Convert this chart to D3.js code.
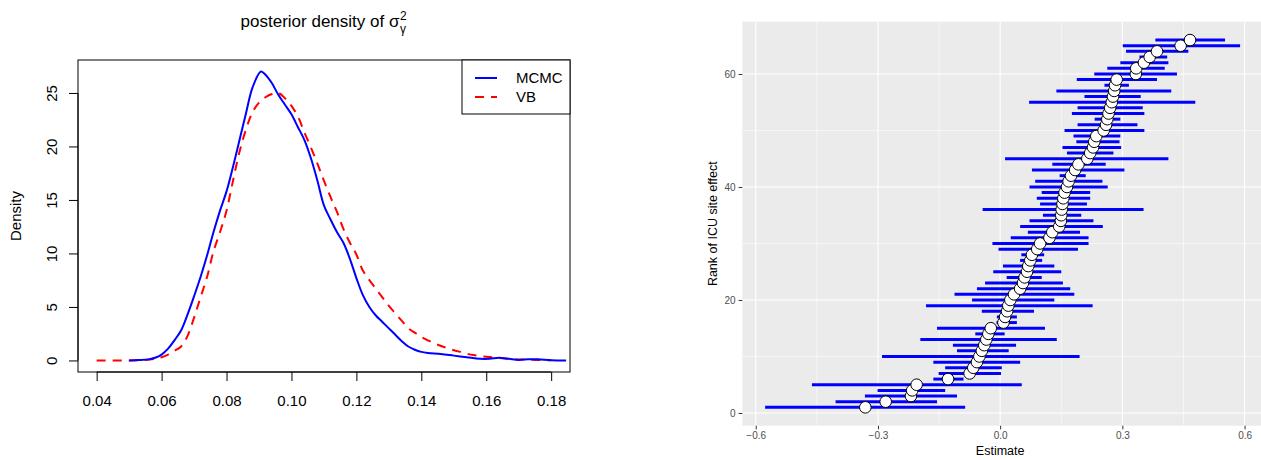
<!DOCTYPE html>
<html>
<head>
<meta charset="utf-8">
<script src="https://cdn.jsdelivr.net/npm/d3@7"></script>
<style>
  body { margin: 0; background: #fff; }
  svg { display: block; font-family: "Liberation Sans", Arial, Helvetica, sans-serif; }
</style>
</head>
<body>
<svg id="chart" width="1261" height="460"></svg>
<script>
// ---- left panel: posterior density of sigma_gamma^2 ----
const mcmcX = [0.050, 0.053, 0.056, 0.058, 0.060, 0.062, 0.064, 0.066, 0.068, 0.070,
  0.072, 0.074, 0.076, 0.078, 0.080, 0.082, 0.084, 0.086, 0.088, 0.0906,
  0.092, 0.094, 0.096, 0.098, 0.100, 0.102, 0.104, 0.106, 0.108, 0.110,
  0.112, 0.114, 0.116, 0.118, 0.120, 0.122, 0.124, 0.126, 0.128, 0.130,
  0.132, 0.134, 0.136, 0.138, 0.140, 0.142, 0.146, 0.150, 0.154, 0.158,
  0.161, 0.164, 0.167, 0.170, 0.173, 0.176, 0.180, 0.1846];
const mcmcY = [0.0, 0.03, 0.1, 0.25, 0.55, 1.1, 1.9, 2.8, 4.3, 6.0,
  7.8, 9.8, 12.0, 14.0, 15.8, 18.1, 20.6, 23.1, 25.5, 27.0,
  26.7, 25.9, 24.8, 23.9, 23.0, 21.8, 20.6, 18.9, 16.8, 14.5,
  13.2, 12.0, 11.0, 9.5, 7.7, 6.1, 5.0, 4.2, 3.6, 3.0,
  2.4, 1.8, 1.3, 1.0, 0.8, 0.7, 0.6, 0.45, 0.3, 0.15,
  0.15, 0.25, 0.15, 0.05, 0.12, 0.1, 0.02, 0.0];

const vbX = [0.040, 0.050, 0.055, 0.058, 0.060, 0.062, 0.064, 0.066, 0.068, 0.070,
  0.072, 0.074, 0.076, 0.078, 0.080, 0.082, 0.084, 0.086, 0.088, 0.090,
  0.092, 0.094, 0.096, 0.098, 0.100, 0.102, 0.104, 0.106, 0.108, 0.110,
  0.112, 0.114, 0.116, 0.118, 0.120, 0.122, 0.124, 0.126, 0.128, 0.130,
  0.132, 0.134, 0.136, 0.138, 0.140, 0.144, 0.148, 0.152, 0.156, 0.160,
  0.165, 0.170, 0.175, 0.180];
const vbY = [0.0, 0.0, 0.05, 0.15, 0.3, 0.55, 0.9, 1.3, 2.3, 4.0,
  5.9, 7.8, 10.2, 12.0, 14.0, 16.8, 19.5, 21.6, 23.2, 24.1,
  24.6, 24.9, 25.0, 24.5, 23.8, 22.8, 21.3, 19.9, 18.4, 16.8,
  15.3, 13.9, 12.3, 11.0, 9.9, 8.4, 7.5, 6.7, 5.9, 5.1,
  4.4, 3.7, 3.0, 2.6, 2.2, 1.6, 1.15, 0.8, 0.5, 0.35,
  0.2, 0.1, 0.05, 0.02];

const densityXTicks = [0.04, 0.06, 0.08, 0.10, 0.12, 0.14, 0.16, 0.18];
const densityYTicks = [0, 5, 10, 15, 20, 25];
const legendLabels = ['MCMC', 'VB'];

// ---- right panel: ICU site effects sorted by rank ----
const siteEstimate = [-0.331, -0.281, -0.219, -0.216, -0.205, -0.128, -0.075, -0.066, -0.057, -0.051,
  -0.045, -0.039, -0.034, -0.029, -0.023, 0.008, 0.012, 0.017, 0.020, 0.025,
  0.034, 0.049, 0.056, 0.060, 0.066, 0.069, 0.074, 0.078, 0.091, 0.098,
  0.121, 0.128, 0.145, 0.149, 0.150, 0.151, 0.153, 0.155, 0.158, 0.164,
  0.168, 0.174, 0.184, 0.192, 0.214, 0.221, 0.228, 0.231, 0.236, 0.254,
  0.260, 0.263, 0.266, 0.270, 0.274, 0.277, 0.280, 0.282, 0.286, 0.333,
  0.334, 0.353, 0.367, 0.385, 0.443, 0.466];
const siteLower = [-0.577, -0.404, -0.332, -0.301, -0.462, -0.164, -0.151, -0.135, -0.164, -0.290,
  -0.106, -0.116, -0.196, -0.061, -0.155, -0.009, -0.008, -0.045, -0.182, -0.069,
  -0.112, -0.057, -0.037, 0.016, -0.017, 0.007, 0.049, 0.052, -0.004, -0.019,
  0.026, 0.068, 0.049, 0.072, 0.105, -0.043, 0.098, 0.090, 0.102, 0.072,
  0.086, 0.146, 0.078, 0.128, 0.012, 0.164, 0.153, 0.187, 0.180, 0.158,
  0.190, 0.232, 0.176, 0.190, 0.071, 0.207, 0.138, 0.256, 0.188, 0.231,
  0.263, 0.295, 0.342, 0.309, 0.301, 0.381];
const siteUpper = [-0.086, -0.155, -0.106, -0.135, 0.053, -0.090, 0.002, 0.004, 0.049, 0.195,
  0.021, 0.039, 0.139, 0.011, 0.110, 0.041, 0.041, 0.083, 0.227, 0.133,
  0.182, 0.172, 0.154, 0.102, 0.150, 0.133, 0.103, 0.108, 0.191, 0.217,
  0.217, 0.196, 0.252, 0.229, 0.199, 0.352, 0.213, 0.221, 0.221, 0.264,
  0.251, 0.210, 0.305, 0.259, 0.413, 0.278, 0.297, 0.293, 0.295, 0.354,
  0.337, 0.295, 0.354, 0.350, 0.479, 0.345, 0.420, 0.316, 0.385, 0.434,
  0.404, 0.413, 0.410, 0.462, 0.589, 0.552];

const estimateTicks = [-0.6, -0.3, 0.0, 0.3, 0.6];
const estimateMinor = [-0.45, -0.15, 0.15, 0.45];
const rankTicks = [0, 20, 40, 60];
const rankMinor = [10, 30, 50];

const svg = d3.select('#chart');

// ================= left: base-R style density plot =================
function drawDensity() {
  const box = { left: 78, right: 570, top: 60, bottom: 372 };
  const x = d3.scaleLinear().domain([0.03425, 0.1858]).range([box.left, box.right]);
  const y = d3.scaleLinear().domain([-1.08, 28.08]).range([box.bottom, box.top]);
  const g = svg.append('g');

  // plot frame
  g.append('rect')
    .attr('x', box.left).attr('y', box.top)
    .attr('width', box.right - box.left).attr('height', box.bottom - box.top)
    .attr('fill', 'none').attr('stroke', '#000').attr('stroke-width', 1);

  // x axis (R draws the line only between the outer ticks)
  const xAxis = g.append('g')
    .attr('transform', `translate(0,${box.bottom})`)
    .call(d3.axisBottom(x).tickValues(densityXTicks).tickFormat(d3.format('.2f'))
      .tickSize(9).tickPadding(14.5));
  xAxis.select('.domain').remove();
  xAxis.append('line')
    .attr('x1', x(densityXTicks[0])).attr('x2', x(densityXTicks[densityXTicks.length - 1]))
    .attr('stroke', '#000');
  xAxis.selectAll('text').attr('font-size', 15).attr('fill', '#000').attr('font-family', null);
  xAxis.selectAll('line').attr('stroke', '#000');

  // y axis with labels parallel to the axis
  const yAxis = g.append('g')
    .attr('transform', `translate(${box.left},0)`)
    .call(d3.axisLeft(y).tickValues(densityYTicks).tickSize(9));
  yAxis.select('.domain').remove();
  yAxis.append('line')
    .attr('y1', y(densityYTicks[0])).attr('y2', y(densityYTicks[densityYTicks.length - 1]))
    .attr('stroke', '#000');
  yAxis.selectAll('line').attr('stroke', '#000');
  yAxis.selectAll('.tick text')
    .attr('x', null).attr('dy', null)
    .attr('transform', 'translate(-21,0) rotate(-90)')
    .attr('text-anchor', 'middle')
    .attr('font-size', 15).attr('fill', '#000').attr('font-family', null);

  g.append('text')
    .attr('transform', `translate(21,${(box.top + box.bottom) / 2}) rotate(-90)`)
    .attr('text-anchor', 'middle')
    .attr('font-size', 15)
    .text('Density');

  // curves
  const line = d3.line().x(d => x(d[0])).y(d => y(d[1])).curve(d3.curveCatmullRom.alpha(0.5));
  const vbPts = vbX.map((v, i) => [v, vbY[i]]);
  const mcmcPts = mcmcX.map((v, i) => [v, mcmcY[i]]);

  g.append('path').datum(vbPts)
    .attr('d', line).attr('fill', 'none')
    .attr('stroke', '#ff0000').attr('stroke-width', 2).attr('stroke-dasharray', '9,7');
  g.append('path').datum(mcmcPts)
    .attr('d', line).attr('fill', 'none')
    .attr('stroke', '#0000ff').attr('stroke-width', 2);

  // title with sigma, superscript 2 and subscript gamma
  const title = g.append('text')
    .attr('y', 27).attr('font-size', 17)
    .text('posterior density of σ');
  const mainW = title.node().getComputedTextLength();
  const startX = (box.left + box.right) / 2 - (mainW + 8) / 2;
  title.attr('x', startX);
  g.append('text').attr('x', startX + mainW + 0.5).attr('y', 19.5).attr('font-size', 12).text('2');
  g.append('text').attr('x', startX + mainW + 0.5).attr('y', 33).attr('font-size', 12).text('γ');

  // legend
  const lg = g.append('g');
  const legLeft = 462;
  lg.append('rect')
    .attr('x', legLeft).attr('y', box.top)
    .attr('width', box.right - legLeft).attr('height', 54)
    .attr('fill', '#fff').attr('stroke', '#000');
  const styles = [{ color: '#0000ff', dash: null }, { color: '#ff0000', dash: '9,7' }];
  legendLabels.forEach((lab, i) => {
    const ly = 78 + i * 19;
    lg.append('line')
      .attr('x1', legLeft + 13).attr('x2', legLeft + 35).attr('y1', ly).attr('y2', ly)
      .attr('stroke', styles[i].color).attr('stroke-width', 2)
      .attr('stroke-dasharray', styles[i].dash);
    lg.append('text')
      .attr('x', legLeft + 54).attr('y', ly + 5).attr('font-size', 15).text(lab);
  });
}

// ================= right: ggplot style caterpillar plot =================
function drawCaterpillar() {
  const panel = { left: 742.3, right: 1261, top: 21.7, bottom: 425.7 };
  const x = d3.scaleLinear().domain([-0.633, 0.6403]).range([panel.left, panel.right]);
  const y = d3.scaleLinear().domain([-2.25, 69.25]).range([panel.bottom, panel.top]);
  const g = svg.append('g');

  const sites = siteEstimate.map((est, i) => ({
    rank: i + 1, est, lo: siteLower[i], hi: siteUpper[i]
  }));

  g.append('rect')
    .attr('x', panel.left).attr('y', panel.top)
    .attr('width', panel.right - panel.left).attr('height', panel.bottom - panel.top)
    .attr('fill', '#ebebeb');

  // grid
  g.selectAll('.vminor').data(estimateMinor).enter().append('line')
    .attr('x1', d => x(d)).attr('x2', d => x(d))
    .attr('y1', panel.top).attr('y2', panel.bottom)
    .attr('stroke', '#fff').attr('stroke-width', 0.55);
  g.selectAll('.hminor').data(rankMinor).enter().append('line')
    .attr('y1', d => y(d)).attr('y2', d => y(d))
    .attr('x1', panel.left).attr('x2', panel.right)
    .attr('stroke', '#fff').attr('stroke-width', 0.55);
  g.selectAll('.vmajor').data(estimateTicks).enter().append('line')
    .attr('x1', d => x(d)).attr('x2', d => x(d))
    .attr('y1', panel.top).attr('y2', panel.bottom)
    .attr('stroke', '#fff').attr('stroke-width', 1.1);
  g.selectAll('.hmajor').data(rankTicks).enter().append('line')
    .attr('y1', d => y(d)).attr('y2', d => y(d))
    .attr('x1', panel.left).attr('x2', panel.right)
    .attr('stroke', '#fff').attr('stroke-width', 1.1);

  // interval bars, then the point estimates on top
  g.selectAll('.bar').data(sites).enter().append('line')
    .attr('x1', d => x(d.lo)).attr('x2', d => x(d.hi))
    .attr('y1', d => y(d.rank)).attr('y2', d => y(d.rank))
    .attr('stroke', '#0000ff').attr('stroke-width', 3);
  g.selectAll('.pt').data(sites).enter().append('circle')
    .attr('cx', d => x(d.est)).attr('cy', d => y(d.rank)).attr('r', 5.8)
    .attr('fill', '#fff').attr('stroke', '#000').attr('stroke-width', 1);

  // axes
  const fmt = d => d3.format('.1f')(d).replace('-', '\u2212');
  const xAxis = g.append('g')
    .attr('transform', `translate(0,${panel.bottom})`)
    .call(d3.axisBottom(x).tickValues(estimateTicks).tickFormat(fmt).tickSize(3.7).tickPadding(3));
  xAxis.select('.domain').remove();
  xAxis.selectAll('line').attr('stroke', '#333');
  xAxis.selectAll('text').attr('font-size', 10).attr('fill', '#4d4d4d').attr('font-family', null);

  const yAxis = g.append('g')
    .attr('transform', `translate(${panel.left},0)`)
    .call(d3.axisLeft(y).tickValues(rankTicks).tickSize(3.7).tickPadding(3));
  yAxis.select('.domain').remove();
  yAxis.selectAll('line').attr('stroke', '#333');
  yAxis.selectAll('text').attr('font-size', 10).attr('fill', '#4d4d4d').attr('font-family', null);

  g.append('text')
    .attr('x', x(0)).attr('y', 455)
    .attr('text-anchor', 'middle').attr('font-size', 12.5)
    .text('Estimate');
  g.append('text')
    .attr('transform', `translate(717,${(panel.top + panel.bottom) / 2}) rotate(-90)`)
    .attr('text-anchor', 'middle').attr('font-size', 12.5)
    .text('Rank of ICU site effect');
}

drawDensity();
drawCaterpillar();
</script>
</body>
</html>
